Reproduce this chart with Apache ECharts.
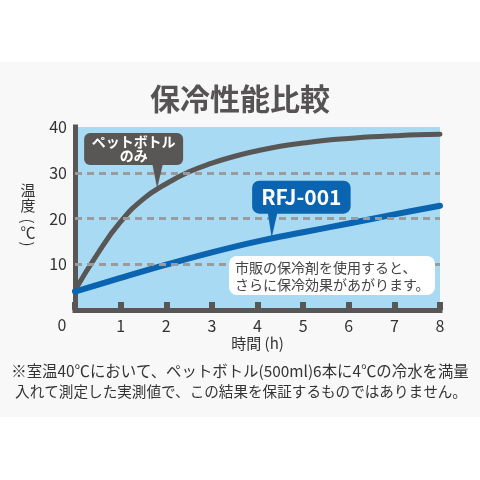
<!DOCTYPE html>
<html><head><meta charset="utf-8">
<script src="https://cdn.jsdelivr.net/npm/echarts@6/dist/echarts.min.js"></script>
<style>html,body{margin:0;padding:0;background:#fff}#c{width:480px;height:480px}</style>
</head><body><div id="c"></div>
<script>
const FONT = '"Noto Sans CJK JP", "Noto Sans", sans-serif';
const titleText = '保冷性能比較';
const xName = '時間 (h)';
const yNameChars = ['温', '度', '(', '℃', ')'];
const xTicks = [0, 1, 2, 3, 4, 5, 6, 7, 8];
const yTicks = [0, 10, 20, 30, 40];
const gridValues = [10, 20, 30];
const petHours = [0, 0.5, 1, 1.5, 2, 2.5, 3, 3.5, 4, 4.5, 5, 5.5, 6, 6.5, 7, 7.5, 8];
const petValues = [4.3, 12.4, 19.3, 24.3, 27.6, 30.2, 32.1, 33.6, 34.8, 35.8, 36.5, 37.1, 37.5, 37.85, 38.1, 38.3, 38.4];
const rfjHours = [0, 1, 2, 3, 4, 5, 6, 7, 8];
const rfjValues = [4.0, 7.0, 9.9, 12.6, 15.0, 17.0, 18.9, 20.9, 22.8];
const petLabel = ['ペットボトル', 'のみ'];
const rfjLabel = 'RFJ-001';
const petAnchor = [1.8, 26.6];
const rfjAnchor = [4.31, 15.6];
const noteLines = ['市販の保冷剤を使用すると、', 'さらに保冷効果があがります。'];
const footLines = ['※室温40℃において、ペットボトル(500ml)6本に4℃の冷水を満量', '入れて測定した実測値で、この結果を保証するものではありません。'];

const DARK = '#595656', BLUE = '#0b64b0';
const chart = echarts.init(document.getElementById('c'));
chart.setOption({
  backgroundColor: '#ffffff',
  animation: false,
  title: { text: titleText, left: 'center', top: 79,
    textStyle: { fontFamily: FONT, fontSize: 30, fontWeight: 'bold', color: '#555353' } },
  grid: { left: 75, right: 40, top: 127, bottom: 170, show: true, backgroundColor: '#a8daf3', borderWidth: 0 },
  xAxis: { type: 'value', min: xTicks[0], max: xTicks[xTicks.length - 1], interval: 1,
    name: xName, nameLocation: 'middle', nameGap: 26,
    nameTextStyle: { fontFamily: FONT, fontSize: 15, color: '#333' },
    axisLine: { lineStyle: { color: DARK, width: 5, cap: 'square' } },
    axisTick: { show: true, inside: true, length: 8, lineStyle: { color: DARK, width: 6 } },
    axisLabel: { fontFamily: FONT, fontSize: 16, color: '#333', margin: 8,
      formatter: v => (v === 0 ? '' : String(v)) },
    splitLine: { show: false } },
  yAxis: { type: 'value', min: yTicks[0], max: yTicks[yTicks.length - 1], interval: 10,
    axisLine: { show: true, lineStyle: { color: DARK, width: 5, cap: 'square' } },
    axisTick: { show: false },
    axisLabel: { fontFamily: FONT, fontSize: 16, color: '#333', margin: 8,
      formatter: v => (v === 0 ? '' : String(v)) },
    splitLine: { show: false } },
  series: [
    { type: 'line', name: 'pet', data: petHours.map((h, i) => [h, petValues[i]]),
      smooth: 0.5, showSymbol: false, symbol: 'none',
      lineStyle: { color: DARK, width: 5, cap: 'round', join: 'round' },
      markLine: { silent: true, symbol: 'none', label: { show: false },
        lineStyle: { color: '#9b9b9b', width: 3, type: [7, 5] },
        data: gridValues.map(v => ({ yAxis: v })) }, z: 3 },
    { type: 'line', name: 'rfj', data: rfjHours.map((h, i) => [h, rfjValues[i]]),
      smooth: 0.4, showSymbol: false, symbol: 'none',
      lineStyle: { color: BLUE, width: 6, cap: 'round', join: 'round' }, z: 4 }
  ]
});

const pt = (p) => chart.convertToPixel({ gridIndex: 0 }, p);
const o = pt([0, 0]);
const pa = pt(petAnchor);
const ra = pt(rfjAnchor);
const txt = (x, y, text, size, color, weight, align, rot) => ({ type: 'text', x: x, y: y, z: 50,
  rotation: rot || 0,
  style: { text: text, fontFamily: FONT, fontSize: size, fill: color, fontWeight: weight || 'normal',
    textAlign: align || 'center', textVerticalAlign: 'middle' } });
const yNameY = [190, 205, 221, 232, 244];

chart.setOption({ graphic: [
  { type: 'rect', z: -10, silent: true, shape: { x: 0, y: 62, width: 480, height: 355 }, style: { fill: '#f8f8f8' } },
  txt(o[0] - 13, o[1] + 15, '0', 16, '#333'),
  ...yNameChars.map((c, i) => txt(28, yNameY[i], c, 15, '#333', 'normal', 'center', (c === '(' || c === ')') ? -Math.PI / 2 : 0)),
  { type: 'rect', z: 40, shape: { x: pa[0] - 73, y: 133, width: 99, height: 32, r: 6 }, style: { fill: DARK } },
  { type: 'polygon', z: 40, shape: { points: [[pa[0] - 5, 163], [pa[0] + 6, 163], [pa[0], pa[1]]] }, style: { fill: DARK } },
  txt(pa[0] - 23.5, 142, petLabel[0], 14, '#fff', 'bold'),
  txt(pa[0] - 23.5, 156, petLabel[1], 14, '#fff', 'bold'),
  { type: 'rect', z: 40, shape: { x: ra[0] - 19.5, y: ra[1] - 58, width: 98.5, height: 33, r: 7 }, style: { fill: BLUE } },
  { type: 'polygon', z: 40, shape: { points: [[ra[0] - 4, ra[1] - 27], [ra[0] + 6, ra[1] - 27], [ra[0], ra[1] - 1]] }, style: { fill: BLUE } },
  txt(ra[0] + 29.7, ra[1] - 41.5, rfjLabel, 21, '#fff', 'bold'),
  { type: 'rect', z: 40, shape: { x: 229, y: 256, width: 206, height: 39, r: 8 }, style: { fill: '#ffffff' } },
  txt(235, 268, noteLines[0], 14, '#444', 'normal', 'left'),
  txt(235, 285, noteLines[1], 14, '#444', 'normal', 'left'),
  txt(240, 371, footLines[0], 15.4, '#333'),
  txt(241, 391, footLines[1], 14.6, '#333')
] });
</script></body></html>
